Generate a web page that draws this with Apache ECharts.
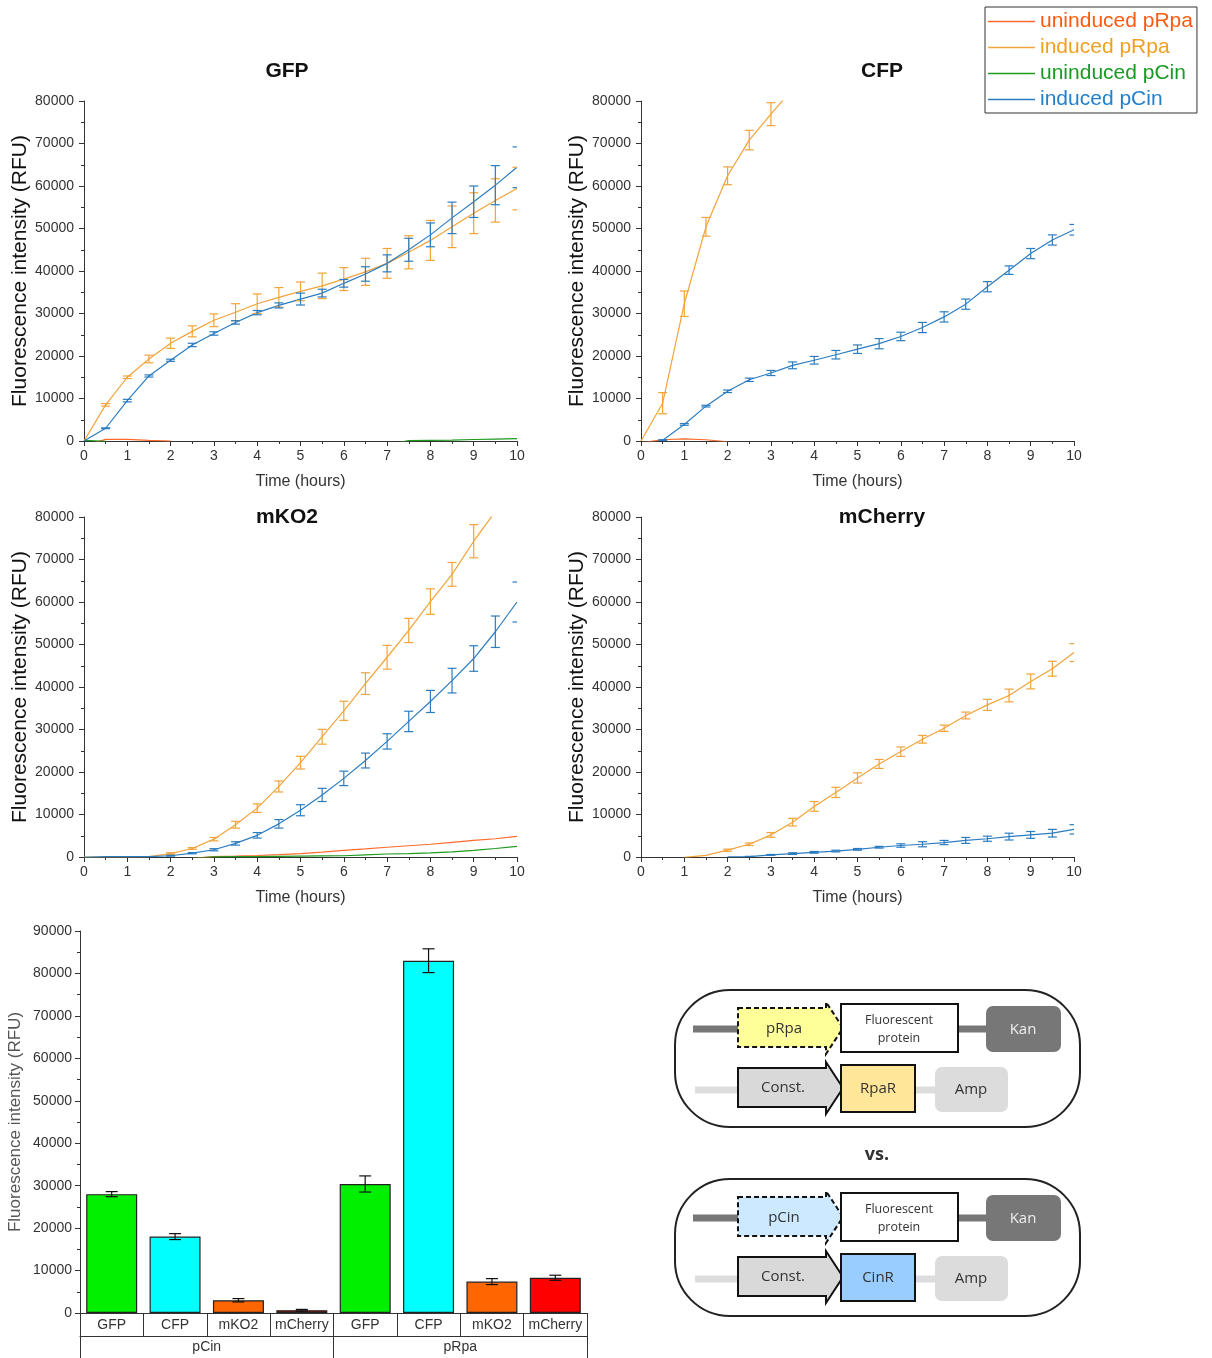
<!DOCTYPE html>
<html><head><meta charset="utf-8">
<script src="https://cdn.jsdelivr.net/npm/echarts@6/dist/echarts.min.js"></script>
<style>html,body{margin:0;padding:0;background:#fff}#c{width:1212px;height:1358px}</style>
</head><body><div id="c"></div>
<script>
// ---------------- DATA ----------------
const time = [0,0.5,1,1.5,2,2.5,3,3.5,4,4.5,5,5.5,6,6.5,7,7.5,8,8.5,9,9.5,10];
const seriesNames = ['uninduced pRpa','induced pRpa','uninduced pCin','induced pCin'];

// GFP
const gfpRpaUn     = [-1100,400,400,150,-20,null,null,null,null,null,null,null,null,null,null,null,null,null,null,null,null];
const gfpRpaInd    = [0,8500,15000,19300,23000,25800,28400,30300,32300,33800,35200,36500,38100,39800,41800,44400,47200,50400,53600,56600,59400];
const gfpRpaIndErr = [0,300,300,900,1200,1300,1500,2000,2300,2300,2200,3000,2700,3200,3500,3900,4700,4900,4800,5100,5000];
const gfpCinUn     = [150,-70,null,null,null,null,null,null,null,null,null,null,null,null,-900,100,150,200,350,450,550];
const gfpCinInd    = [0,3000,9500,15300,19000,22600,25300,27900,30200,31900,33400,34800,37100,39300,41800,45000,48500,52500,56300,60200,64400];
const gfpCinIndErr = [0,100,300,250,250,400,400,400,500,600,1400,900,900,1700,2000,2700,2800,3700,3700,4600,4800];

// CFP
const cfpRpaUn     = [-400,300,500,300,-200,null,null,null,null,null,null,null,null,null,null,null,null,null,null,null,null];
const cfpRpaInd    = [0,8900,32300,50400,62400,70800,76900,82800,null,null,null,null,null,null,null,null,null,null,null,null,null];
const cfpRpaIndErr = [0,2500,3000,2200,2100,2300,2700,null,null,null,null,null,null,null,null,null,null,null,null,null,null];
const cfpCinUn     = [];
const cfpCinInd    = [null,200,3900,8200,11700,14400,16000,17800,19000,20300,21600,22900,24600,26700,29200,32200,36300,40200,44100,47300,49700];
const cfpCinIndErr = [null,100,200,200,300,400,600,800,900,1000,1000,1200,1000,1200,1200,1200,1200,1000,1200,1200,1250];

// mKO2
const mko2RpaUn     = [null,null,null,null,null,-300,100,200,350,550,780,1150,1550,1900,2300,2650,3000,3450,3900,4300,4850];
const mko2RpaInd    = [0,0,0,100,800,2000,4200,7600,11500,16600,22200,28300,34400,40800,47000,53300,60100,66500,74300,81300,null];
const mko2RpaIndErr = [0,0,0,0,200,200,400,800,1000,1300,1500,1750,2250,2550,2800,2850,3000,2800,3900,null,null];
const mko2CinUn     = [null,null,null,null,null,-300,50,80,100,150,200,250,300,500,700,800,950,1200,1550,2000,2500];
const mko2CinInd    = [-70,100,100,100,300,900,1700,3200,5100,7800,11000,14600,18500,22700,27200,31900,36600,41500,46700,53000,60000];
const mko2CinIndErr = [0,0,0,0,100,150,250,400,650,1000,1300,1550,1700,1750,1800,2400,2600,2900,3000,3700,4700];

// mCherry
const mchRpaUn     = [];
const mchRpaInd    = [null,null,-100,400,1600,3000,5200,8200,11900,15200,18600,21900,24800,27700,30300,33300,35800,38000,41300,44300,48100];
const mchRpaIndErr = [null,null,0,0,250,300,550,900,1150,1200,1200,1050,1100,900,750,800,1300,1500,1750,1750,2100];
const mchCinUn     = [];
const mchCinInd    = [null,null,null,null,50,100,500,800,1100,1400,1800,2300,2700,3000,3400,3900,4300,4800,5200,5600,6500];
const mchCinIndErr = [null,null,null,null,0,50,100,200,200,200,200,200,400,600,500,700,600,800,800,900,1100];

// Bar chart (end point)
const barCats   = ['GFP','CFP','mKO2','mCherry','GFP','CFP','mKO2','mCherry'];
const barGroups = ['pCin','pRpa'];
const barValues = [28000,18000,3000,650,30400,83000,7400,8300];
const barErrors = [600,700,400,200,1900,2800,700,600];

const timeTicks = [0,1,2,3,4,5,6,7,8,9,10];

// ---------------- STYLE ----------------
const FONT = '"Liberation Sans", Arial, sans-serif';
const DFONT = '"Open Sans", "Noto Sans", sans-serif';
const lineColors = ['#FF6A2A','#F2A33A','#1E9B1E','#2B7CC1'];
const legendTextColors = ['#FF5A10','#F0A020','#1A9A24','#2480CC'];
const barColorMap = {GFP:'#00F000', CFP:'#00FFFF', mKO2:'#FF6600', mCherry:'#FF0000'};

const panels = [
  {title:'GFP', un1:gfpRpaUn, ind1:gfpRpaInd, err1:gfpRpaIndErr, un2:gfpCinUn, ind2:gfpCinInd, err2:gfpCinIndErr},
  {title:'CFP', un1:cfpRpaUn, ind1:cfpRpaInd, err1:cfpRpaIndErr, un2:cfpCinUn, ind2:cfpCinInd, err2:cfpCinIndErr},
  {title:'mKO2', un1:mko2RpaUn, ind1:mko2RpaInd, err1:mko2RpaIndErr, un2:mko2CinUn, ind2:mko2CinInd, err2:mko2CinIndErr},
  {title:'mCherry', un1:mchRpaUn, ind1:mchRpaInd, err1:mchRpaIndErr, un2:mchCinUn, ind2:mchCinInd, err2:mchCinIndErr}
];
const panelLayout = [
  {left:84, top:101, tx:287, ty:71},
  {left:641, top:101, tx:882, ty:71},
  {left:84, top:517, tx:287, ty:517},
  {left:641, top:517, tx:882, ty:517}
];

function errorBar(capHalf, lw, skipStemAt) {
  return function (params, api) {
    const x = api.value(0), y = api.value(1), e = api.value(2);
    const hi = api.coord([x, y + e]);
    const lo = api.coord([x, y - e]);
    const st = {stroke: api.visual('color'), lineWidth: lw};
    const ch = [
      {type:'line', shape:{x1:hi[0]-capHalf, y1:hi[1], x2:hi[0]+capHalf, y2:hi[1]}, style:st},
      {type:'line', shape:{x1:lo[0]-capHalf, y1:lo[1], x2:lo[0]+capHalf, y2:lo[1]}, style:st}
    ];
    if (x !== skipStemAt) ch.push({type:'line', shape:{x1:hi[0], y1:hi[1], x2:lo[0], y2:lo[1]}, style:st});
    return {type:'group', children: ch};
  };
}

const grid = [], xAxis = [], yAxis = [], series = [], graphic = [];
const axisCol = '#333';
const plain = v => String(v);

panels.forEach((p, i) => {
  const L = panelLayout[i];
  grid.push({left:L.left, top:L.top, width:433, height:340, outerBoundsMode:'none', containLabel:false});
  xAxis.push({
    type:'value', gridIndex:i, min:0, max:10, interval:1,
    axisLine:{show:true, onZero:false, lineStyle:{color:axisCol, width:1}},
    axisTick:{show:true, length:5, lineStyle:{color:axisCol}},
    minorTick:{show:true, splitNumber:2, length:3, lineStyle:{color:axisCol}},
    splitLine:{show:false}, minorSplitLine:{show:false},
    axisLabel:{fontSize:14, color:'#333', margin:8, fontFamily:FONT,
      formatter: v => timeTicks.includes(v) ? String(v) : ''},
    name:'Time (hours)', nameLocation:'middle', nameGap:33,
    nameTextStyle:{fontSize:16, color:'#333', fontFamily:FONT}
  });
  yAxis.push({
    type:'value', gridIndex:i, min:0, max:80000, interval:10000,
    axisLine:{show:true, onZero:false, lineStyle:{color:axisCol, width:1}},
    axisTick:{show:true, length:5, lineStyle:{color:axisCol}},
    minorTick:{show:true, splitNumber:2, length:3, lineStyle:{color:axisCol}},
    splitLine:{show:false}, minorSplitLine:{show:false},
    axisLabel:{fontSize:14, color:'#333', margin:10, fontFamily:FONT, formatter: plain},
    name:'Fluorescence intensity (RFU)', nameLocation:'middle', nameGap:52,
    nameTextStyle:{fontSize:21, color:'#111', fontFamily:FONT}
  });
  const lines = [p.un1, p.ind1, p.un2, p.ind2];
  lines.forEach((arr, k) => {
    if (!arr.length) return;
    series.push({
      type:'line', name:seriesNames[k], xAxisIndex:i, yAxisIndex:i,
      data: time.map((t, j) => [t, arr[j] == null ? '-' : arr[j]]),
      symbol:'none', showSymbol:false, clip:true, connectNulls:false,
      lineStyle:{color:lineColors[k], width:1.2}, itemStyle:{color:lineColors[k]},
      z: 2 + k, silent:true
    });
  });
  [[p.ind1, p.err1, 1], [p.ind2, p.err2, 3]].forEach(([vals, errs, k]) => {
    const d = time.map((t, j) => [t, vals[j], errs[j]]).filter(r => r[1] != null && r[2] != null && r[2] > 0);
    series.push({
      type:'custom', name:'err-' + i + '-' + k, xAxisIndex:i, yAxisIndex:i,
      renderItem: errorBar(4.5, 1.2, 10), data:d, clip:true,
      itemStyle:{color:lineColors[k]}, z: 6 + k, silent:true
    });
  });
  graphic.push({type:'text', x:L.tx, y:L.ty, silent:true,
    style:{text:p.title, font:'bold 21px ' + FONT, fill:'#111', align:'center', verticalAlign:'middle'}});
});

// Bar chart
grid.push({left:80, top:931, width:507, height:382, outerBoundsMode:'none', containLabel:false});
xAxis.push({
  type:'category', gridIndex:4, data:barCats, boundaryGap:true,
  axisLine:{show:true, onZero:false, lineStyle:{color:axisCol}},
  axisTick:{show:true, interval:0, alignWithLabel:false, length:23, lineStyle:{color:axisCol}},
  axisLabel:{interval:0, fontSize:14, color:'#333', margin:5, fontFamily:FONT},
  splitLine:{show:false}
});
xAxis.push({
  type:'category', gridIndex:4, data:barGroups, position:'bottom', offset:23, boundaryGap:true,
  axisLine:{show:true, onZero:false, lineStyle:{color:axisCol}},
  axisTick:{show:true, interval:0, alignWithLabel:false, length:23, lineStyle:{color:axisCol}},
  axisLabel:{interval:0, fontSize:14, color:'#333', margin:4, fontFamily:FONT},
  splitLine:{show:false}
});
yAxis.push({
  type:'value', gridIndex:4, min:0, max:90000, interval:10000,
  axisLine:{show:true, onZero:false, lineStyle:{color:axisCol}},
  axisTick:{show:true, length:5, lineStyle:{color:axisCol}},
  minorTick:{show:true, splitNumber:2, length:3, lineStyle:{color:axisCol}},
  splitLine:{show:false}, minorSplitLine:{show:false},
  axisLabel:{fontSize:14, color:'#333', margin:8, fontFamily:FONT, formatter: plain},
  name:'Fluorescence intensity (RFU)', nameLocation:'middle', nameGap:56,
  nameTextStyle:{fontSize:17, color:'#555', fontFamily:FONT}
});
series.push({
  type:'bar', name:'endpoint', xAxisIndex:4, yAxisIndex:4, barWidth:51,
  data: barValues.map((v, j) => ({value:v, itemStyle:{color:barColorMap[barCats[j]]}})),
  itemStyle:{borderColor:'#222', borderWidth:1.2}, silent:true
});
series.push({
  type:'custom', name:'bar-err', xAxisIndex:4, yAxisIndex:4,
  renderItem: errorBar(6, 1.2, null),
  data: barValues.map((v, j) => [j, v, barErrors[j]]),
  itemStyle:{color:'#111'}, z:10, silent:true
});

// Construct diagrams (illustration)
function construct(dy, pLabel, pFill, rLabel, rFill) {
  const P = (pts) => pts.map(([a, b]) => [a, b + dy]);
  const el = [];
  el.push({type:'rect', shape:{x:675, y:990+dy, width:405, height:137, r:55}, style:{fill:'#fff', stroke:'#222', lineWidth:2}, z:1});
  el.push({type:'line', shape:{x1:693, y1:1029+dy, x2:740, y2:1029+dy}, style:{stroke:'#777', lineWidth:7}, z:2});
  el.push({type:'line', shape:{x1:956, y1:1029+dy, x2:988, y2:1029+dy}, style:{stroke:'#777', lineWidth:7}, z:2});
  el.push({type:'line', shape:{x1:695, y1:1090+dy, x2:740, y2:1090+dy}, style:{stroke:'#DDD', lineWidth:7}, z:2});
  el.push({type:'line', shape:{x1:913, y1:1090+dy, x2:937, y2:1090+dy}, style:{stroke:'#DDD', lineWidth:7}, z:2});
  el.push({type:'polygon', shape:{points:P([[738,1008],[826,1008],[826,1002],[843,1028],[826,1054],[826,1047],[738,1047]])},
    style:{fill:pFill, stroke:'#111', lineWidth:2, lineDash:[5,3]}, z:3});
  el.push({type:'rect', shape:{x:841, y:1004+dy, width:117, height:48}, style:{fill:'#fff', stroke:'#111', lineWidth:2}, z:3});
  el.push({type:'rect', shape:{x:986, y:1006+dy, width:75, height:46, r:7}, style:{fill:'#777'}, z:3});
  el.push({type:'polygon', shape:{points:P([[738,1068],[826,1068],[826,1062],[843,1088],[826,1114],[826,1107],[738,1107]])},
    style:{fill:'#D9D9D9', stroke:'#111', lineWidth:2}, z:3});
  el.push({type:'rect', shape:{x:841, y:1065+dy, width:74, height:47}, style:{fill:rFill, stroke:'#111', lineWidth:2}, z:3});
  el.push({type:'rect', shape:{x:935, y:1067+dy, width:73, height:45, r:7}, style:{fill:'#DCDCDC'}, z:3});
  const T = (x, y, text, size, fill) => ({type:'text', x:x, y:y+dy, z:4,
    style:{text:text, font: size + 'px ' + DFONT, fill:fill, align:'center', verticalAlign:'middle'}});
  el.push(T(784, 1029, pLabel, 15, '#333'));
  el.push(T(899, 1020, 'Fluorescent', 12.5, '#333'));
  el.push(T(899, 1038, 'protein', 12.5, '#333'));
  el.push(T(1023, 1030, 'Kan', 15, '#EEE'));
  el.push(T(783, 1088, 'Const.', 15, '#333'));
  el.push(T(878, 1089, rLabel, 15, '#333'));
  el.push(T(971, 1090, 'Amp', 15, '#333'));
  return el;
}
graphic.push(...construct(0, 'pRpa', '#FFFF99', 'RpaR', '#FFE699'));
graphic.push(...construct(189, 'pCin', '#CCE9FF', 'CinR', '#99CCFF'));
graphic.push({type:'text', x:877, y:1155, style:{text:'vs.', font:'bold 18px ' + DFONT, fill:'#333', align:'center', verticalAlign:'middle'}});

const option = {
  animation:false,
  backgroundColor:'#fff',
  textStyle:{fontFamily:FONT},
  legend:{
    show:true, orient:'vertical', left:985, top:7,
    padding:[4,4,3,3], itemGap:5, itemWidth:47, itemHeight:20,
    borderColor:'#333', borderWidth:1, backgroundColor:'#fff',
    icon:'path://M0,0H60V2H0Z', selectedMode:false,
    textStyle:{fontSize:21, fontFamily:FONT, lineHeight:20},
    data: seriesNames.map((n, k) => ({name:n, textStyle:{color:legendTextColors[k]}}))
  },
  grid, xAxis, yAxis, series,
  graphic:{elements: graphic}
};
const chart = echarts.init(document.getElementById('c'), null, {renderer:'canvas'});
chart.setOption(option);
</script>
</body></html>
